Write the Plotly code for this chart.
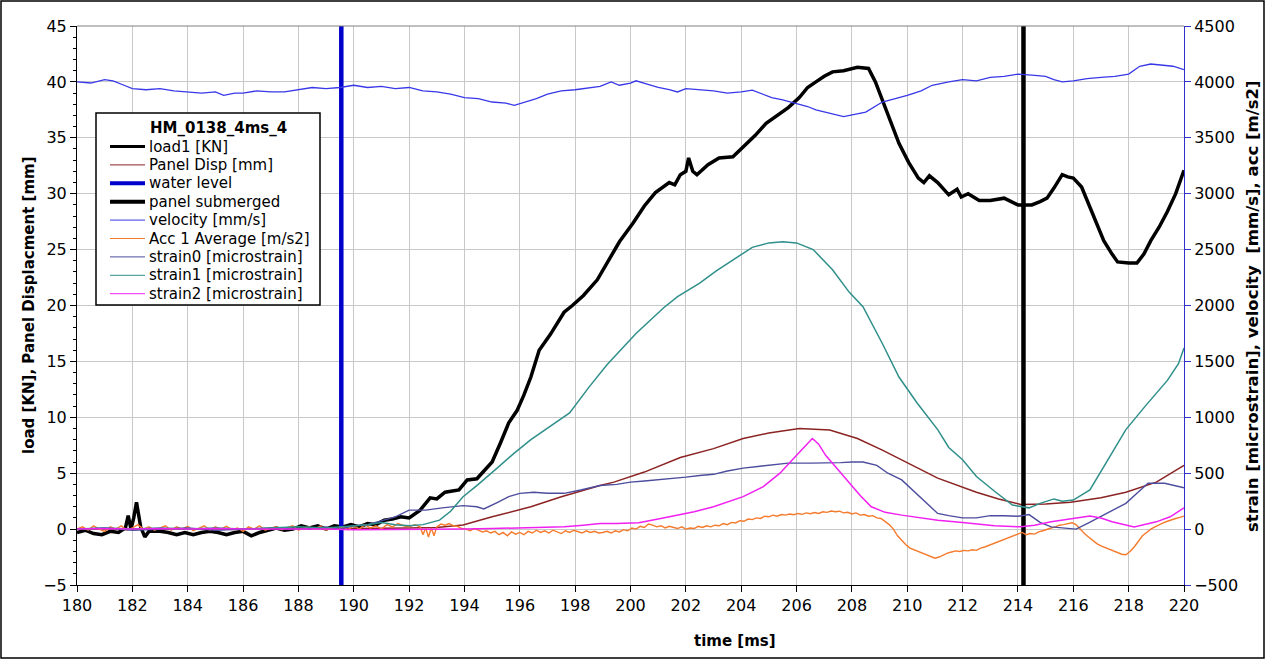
import plotly.graph_objects as go

# ---------------- data ----------------
load_t = [180.0, 180.3, 180.6, 180.9, 181.2, 181.5, 181.75, 181.85, 181.95, 182.05, 182.15, 182.3, 182.45, 182.6,
          183.0, 183.3, 183.6, 183.9, 184.2, 184.5, 184.8, 185.1, 185.4, 185.7, 186.0, 186.3, 186.6, 186.9, 187.2,
          187.5, 187.8, 188.1, 188.4, 188.7, 189.0, 189.3, 189.6, 189.9, 190.2, 190.5, 190.8, 191.1, 191.4, 191.7,
          192.0, 192.4, 192.76, 193.0, 193.3, 193.8, 194.1, 194.45, 194.8, 195.0, 195.3, 195.6, 195.9, 196.15, 196.4,
          196.7, 197.1, 197.6, 197.9, 198.3, 198.8, 199.2, 199.6, 200.1, 200.5, 200.9, 201.2, 201.4, 201.6, 201.8,
          202.0, 202.1, 202.25, 202.4, 202.8, 203.2, 203.7, 204.2, 204.5, 204.9, 205.3, 205.7, 206.1, 206.4, 206.7,
          207.0, 207.3, 207.7, 208.2, 208.6, 208.85, 209.1, 209.4, 209.7, 210.05, 210.4, 210.6, 210.8, 211.1, 211.5,
          211.8, 211.95, 212.2, 212.6, 213.0, 213.5, 214.0, 214.5, 214.8, 215.05, 215.3, 215.6, 215.8, 216.0, 216.3,
          216.5, 216.8, 217.1, 217.4, 217.6, 218.0, 218.3, 218.55, 218.8, 219.1, 219.4, 219.7, 220.0]
load_v = [-0.3, -0.1, -0.4, -0.5, -0.2, -0.3, 0.1, 1.2, 0.0, 1.0, 2.4, 0.2, -0.7, -0.2,
          -0.2, -0.3, -0.5, -0.3, -0.5, -0.3, -0.2, -0.3, -0.5, -0.3, -0.2, -0.6, -0.3, -0.1, 0.1,
          -0.1, 0.0, 0.3, 0.1, 0.3, 0.0, 0.3, 0.2, 0.4, 0.2, 0.5, 0.4, 0.8, 0.9, 1.1,
          1.0, 1.7, 2.8, 2.7, 3.3, 3.5, 4.4, 4.5, 5.5, 6.0, 7.7, 9.5, 10.6, 12.0, 13.6,
          16.0, 17.4, 19.4, 20.0, 20.9, 22.3, 24.0, 25.7, 27.4, 28.9, 30.1, 30.6, 31.0, 30.8, 31.7,
          32.0, 33.2, 32.0, 31.7, 32.6, 33.2, 33.3, 34.5, 35.2, 36.3, 37.0, 37.7, 38.6, 39.5, 40.0,
          40.5, 40.9, 41.0, 41.3, 41.2, 40.0, 38.4, 36.4, 34.5, 32.8, 31.4, 31.0, 31.6, 31.0, 29.9,
          30.4, 29.7, 30.0, 29.4, 29.4, 29.6, 29.0, 29.0, 29.3, 29.6, 30.5, 31.7, 31.5, 31.4, 30.6,
          29.4, 27.6, 25.8, 24.6, 23.9, 23.8, 23.8, 24.6, 25.8, 27.0, 28.4, 30.0, 32.1]

disp_t = [180, 182, 184, 186, 188, 190, 192, 193.0, 193.95, 195.0, 196.4, 197.5, 198.9, 199.4, 200.5, 201.8,
          203.0, 204.07, 205.0, 206.1, 207.2, 208.2, 209.1, 210.1, 211.1, 212.5, 213.3, 214.1, 215.0, 215.9,
          217.0, 217.9, 219.0, 220.0]
disp_v = [0.0, 0.0, 0.0, 0.0, 0.0, 0.05, 0.1, 0.15, 0.36, 1.1, 2.0, 2.9, 3.9, 4.2, 5.1, 6.4,
          7.2, 8.1, 8.6, 9.0, 8.86, 8.1, 7.07, 5.8, 4.56, 3.3, 2.7, 2.2, 2.25, 2.4,
          2.8, 3.3, 4.2, 5.7]

water_level_time = 189.55
panel_submerged_time = 214.2
left_range = [-5, 45]
right_range = [-500, 4500]

vel_t = [180, 180.5, 181, 181.3, 181.7, 182, 182.5, 183, 183.5, 184, 184.5, 185, 185.3, 185.7, 186, 186.5, 187,
         187.5, 188, 188.5, 189, 189.5, 190, 190.5, 191, 191.5, 192, 192.5, 193, 193.5, 194, 194.5, 195, 195.5,
         195.8, 196.2, 196.6, 197, 197.5, 198, 198.5, 198.9, 199.3, 199.6, 200, 200.2, 200.6, 201, 201.4, 201.7,
         202.0, 202.5, 203, 203.5, 204, 204.4, 204.8, 205.1, 205.5, 206, 206.4, 206.7, 207.2, 207.7, 208.1, 208.5,
         209.1, 209.6, 210, 210.5, 210.9, 211.5, 212, 212.5, 213, 213.5, 214, 214.5, 215, 215.3, 215.6, 216,
         216.5, 217, 217.5, 218, 218.4, 218.8, 219.2, 219.6, 220]
vel_v = [4000, 3990, 4020, 4010, 3970, 3940, 3930, 3940, 3920, 3910, 3900, 3910, 3880, 3900, 3900, 3920, 3910,
         3910, 3930, 3950, 3940, 3950, 3970, 3950, 3960, 3940, 3950, 3920, 3910, 3890, 3860, 3850, 3820, 3810,
         3790, 3820, 3850, 3890, 3920, 3930, 3950, 3960, 4000, 3970, 3990, 4010, 3980, 3950, 3930, 3910,
         3940, 3930, 3920, 3900, 3910, 3927, 3890, 3860, 3840, 3810, 3780, 3750, 3720, 3690, 3710, 3730,
         3820, 3850, 3880, 3920, 3970, 4000, 4020, 4010, 4040, 4050, 4070, 4060, 4050, 4020, 4000, 4010,
         4030, 4040, 4050, 4070, 4140, 4160, 4150, 4140, 4110]

acc_t = [180, 180.2, 180.4, 180.6, 180.8, 181, 181.2, 181.4, 181.6, 181.8, 182, 182.2, 182.4, 182.6, 182.8,
         183, 183.2, 183.4, 183.6, 183.8, 184, 184.2, 184.4, 184.6, 184.8, 185, 185.2, 185.4, 185.6, 185.8,
         186, 186.2, 186.4, 186.6, 186.8, 187, 187.2, 187.4, 187.6, 187.8, 188, 188.2, 188.4, 188.6, 188.8,
         189, 189.2, 189.4, 189.6, 189.8, 190, 190.2, 190.4, 190.6, 190.8, 191, 191.2, 191.4, 191.6, 191.8,
         192, 192.2, 192.4, 192.5, 192.6, 192.7, 192.8, 192.9,
         193.0, 193.15, 193.3, 193.45, 193.6, 193.75, 193.9, 194.05, 194.2, 194.35, 194.5, 194.65, 194.8, 194.95,
         195.1, 195.25, 195.4, 195.55, 195.7, 195.85, 196.0, 196.15, 196.3, 196.45, 196.6, 196.75, 196.9, 197.05,
         197.2, 197.35, 197.5, 197.65, 197.8, 197.95, 198.1, 198.25, 198.4, 198.55, 198.7, 198.85,
         199.0, 199.15, 199.3, 199.45, 199.6, 199.75, 199.9, 200.05, 200.2, 200.35, 200.5, 200.65, 200.8, 200.95,
         201.1, 201.25, 201.4, 201.55, 201.7, 201.85, 202.0, 202.15, 202.3, 202.45, 202.6, 202.75, 202.9, 203.05,
         203.2, 203.35, 203.5, 203.65, 203.8, 203.95, 204.1, 204.25, 204.4, 204.55, 204.7, 204.85, 205.0, 205.15,
         205.3, 205.45, 205.6, 205.75, 205.9, 206.05, 206.2, 206.35, 206.5, 206.65, 206.8, 206.95, 207.1, 207.25,
         207.4, 207.55, 207.7, 207.85, 208.0, 208.15, 208.3, 208.45, 208.6, 208.75, 208.9, 209.05, 209.2, 209.35,
         209.5, 209.65, 209.8, 209.95, 210.1, 210.25, 210.4, 210.55, 210.7, 210.85, 211.0, 211.15, 211.3, 211.45,
         211.6, 211.75, 211.9, 212.05, 212.2, 212.35, 212.5, 212.65, 212.8, 212.95, 213.1, 213.25, 213.4, 213.55,
         213.7, 213.85, 214.0, 214.15, 214.3, 214.45, 214.6, 214.75, 214.9, 215.05, 215.2, 215.35, 215.5, 215.65,
         215.8, 215.95, 216.1, 216.25, 216.4, 216.55, 216.7, 216.85, 217.0, 217.15, 217.3, 217.45, 217.6, 217.75,
         217.9, 218.05, 218.2, 218.35, 218.5, 218.65, 218.8, 218.95, 219.1, 219.25, 219.4, 219.55, 219.7, 219.85,
         220.0]
acc_v = [0, 20, -10, 30, 0, -20, 20, 0, 30, -10, 10, 40, 0, 20, -10,
         10, 30, -10, 20, 0, 25, -15, 10, 30, -10, 20, 0, 25, -5, 10,
         -20, 20, 0, 30, -10, 10, 20, -5, 15, 30, -10, 10, 20, 0, 30,
         -10, 15, 0, 20, -5, 30, 0, 40, 10, 30, 0, 40, 20, 50, 30,
         20, 40, 20, -50, 10, -70, 10, -60,
         20, 45, 35, 50, 30, 25, 5, 0, -15, 5, -10, -25, -15, -35,
         -20, -50, -30, -60, -25, -45, -30, -50, -20, -35, -10, -30, -15, -35,
         -10, -25, -40, -15, -30, -10, -25, -35, -15, -30, -20, -35,
         -30, -20, -35, -15, -25, -5, -15, 10, 0, 25, 15, 45, 35, 20,
         30, 10, 25, 15, 5, 20, 0, 10, 5, 25, 15, 30, 20, 35,
         30, 50, 40, 60, 55, 75, 70, 90, 85, 100, 95, 115, 110, 125,
         115, 130, 125, 135, 128, 140, 132, 145, 138, 148, 140, 155, 150, 162,
         155, 160, 145, 150, 135, 145, 125, 130, 115, 120, 100, 95, 70, 40,
         0, -60, -100, -140, -170, -185, -200, -215, -235, -245, -260, -250, -230, -215,
         -205, -195, -200, -190, -195, -185, -190, -170, -160, -145, -130, -120, -100, -90,
         -75, -60, -45, -30, -50, -40, -45, -25, -15, 0, 10, 20, 35, 40,
         50, 56, 40, 0, -40, -70, -100, -130, -150, -165, -180, -190, -205, -225,
         -230, -200, -160, -110, -60, -30, 0, 20, 40, 55, 70, 85, 95, 105,
         116]

s0_t = [180, 181, 182, 183, 184, 185, 186, 187, 188, 189, 189.5, 190, 190.5, 191.1, 191.5, 192, 192.6, 193.2,
        193.95, 194.45, 194.7, 195.2, 195.6, 196, 196.5, 197, 197.6, 198.2, 198.9, 199.5, 200, 200.5, 201,
        201.5, 202, 202.5, 203, 203.5, 204.07, 204.6, 205.2, 205.7, 206.5, 207, 207.6, 208, 208.4, 208.9,
        209.3, 209.8, 210.2, 210.6, 211.1, 211.5, 212, 212.5, 213, 213.5, 214, 214.4, 214.8, 215.2, 215.6,
        216.1, 216.5, 216.95, 217.5, 217.9, 218.3, 218.7, 219.3, 219.7, 220]
s0_v = [0, 10, -10, 0, 10, -10, 0, 10, 0, 20, 0, 30, 40, 80, 110, 170, 170, 190,
        210, 200, 180, 240, 290, 320, 330, 320, 320, 350, 390, 400, 420, 430, 440,
        450, 465, 480, 490, 520, 545, 560, 580, 590, 590, 590, 595, 600, 600, 570,
        500, 440, 350, 260, 140, 120, 100, 100, 120, 120, 115, 130, 60, 20, 10,
        0, 50, 110, 180, 230, 320, 410, 410, 390, 370]

s1_t = [180, 181, 182, 183, 184, 185, 186, 187, 188, 189, 190, 190.5, 191, 191.5, 192, 192.5, 193.1, 193.5,
        193.95, 194.5, 195.2, 195.8, 196.4, 197.1, 197.8, 198.5, 199.15, 200.2, 201.2, 201.7, 202.5, 203.1,
        203.7, 204.4, 205.0, 205.5, 206.0, 206.6, 207.3, 207.9, 208.4, 209.1, 209.7, 210.35, 211.1, 211.5,
        212.0, 212.5, 213.2, 213.8, 214.4, 214.8, 215.3, 215.6, 216.0, 216.6, 217.2, 217.9, 218.6, 219.4,
        219.8, 220]
s1_v = [0, 10, 0, 10, 0, 10, 0, 10, 20, 10, 30, 40, 60, 40, 30, 40, 80, 160,
        290, 400, 550, 680, 800, 920, 1040, 1270, 1470, 1750, 1980, 2080, 2200, 2310,
        2410, 2520, 2560, 2570, 2560, 2500, 2320, 2120, 1990, 1660, 1360, 1130, 890, 730,
        620, 470, 330, 215, 190, 230, 270, 250, 260, 350, 600, 890, 1100, 1330,
        1480, 1620]

s2_t = [180, 181, 182, 183, 184, 185, 186, 187, 188, 189, 190, 191, 192, 193, 194, 195, 196, 197, 197.6,
        198.3, 198.9, 199.5, 200.3, 201, 201.8, 202.3, 203, 203.5, 204.07, 204.8, 205.4, 205.96, 206.3,
        206.57, 206.8, 207.05, 207.4, 207.9, 208.3, 208.7, 209.2, 209.8, 210.5, 211.1, 212, 213.15, 214.1,
        214.6, 215.2, 215.9, 216.6, 217, 217.4, 218.2, 218.6, 219, 219.5, 220]
s2_v = [0, 5, 0, 5, 0, 5, 0, 0, 5, 0, -5, -5, 0, 0, 0, 5, 10, 20, 20,
        35, 50, 50, 56, 90, 130, 155, 200, 240, 290, 380, 500, 650, 740,
        810, 760, 660, 560, 420, 300, 200, 150, 125, 100, 80, 60, 30, 20,
        35, 65, 90, 116, 100, 65, 20, 40, 65, 110, 190]

legend_title = "HM_0138_4ms_4"
x_title = "time [ms]"
y_title = "load [KN], Panel Displacment [mm]"
y2_title = "strain [microstrain], velocity  [mm/s], acc [m/s2]"

# series: name, x, y, axis, colour, width, legend sample width
series = [
    ("load1 [KN]", load_t, load_v, "y", "#000000", 3.5, 3),
    ("Panel Disp [mm]", disp_t, disp_v, "y", "#8b2323", 1.5, 1),
    ("water level", [water_level_time, water_level_time], left_range, "y", "#0000cc", 4.5, 4),
    ("panel submerged", [panel_submerged_time, panel_submerged_time], left_range, "y", "#000000", 4.5, 4),
    ("velocity [mm/s]", vel_t, vel_v, "y2", "#3838e8", 1.3, 1),
    ("Acc 1 Average [m/s2]", acc_t, acc_v, "y2", "#f47a2c", 1.4, 1),
    ("strain0 [microstrain]", s0_t, s0_v, "y2", "#4d4d9e", 1.4, 1),
    ("strain1 [microstrain]", s1_t, s1_v, "y2", "#2f8f8a", 1.5, 1),
    ("strain2 [microstrain]", s2_t, s2_v, "y2", "#f020f0", 1.5, 1),
]

# ---------------- figure ----------------
FONT = "DejaVu Sans, Liberation Sans, Arial, sans-serif"
fig = go.Figure()
for name, xs, ys, ax, col, w, _ in series:
    fig.add_trace(go.Scatter(x=xs, y=ys, name=name, mode="lines", yaxis=ax,
                             line=dict(color=col, width=w), showlegend=False))

L, R, T, B = 77, 82, 26, 75
W, H = 1266, 660
pw, ph = W - L - R, H - T - B


def px(x):
    return (x - L) / pw


def py(y):
    return (ph + T - y) / ph


fig.update_layout(
    width=W, height=H,
    margin=dict(l=L, r=R, t=T, b=B),
    paper_bgcolor="white", plot_bgcolor="white",
    font=dict(family=FONT, size=16, color="#000000"),
    showlegend=False,
    xaxis=dict(range=[180, 220], dtick=2, tick0=180, showgrid=True, gridcolor="#c8c8c8", gridwidth=1,
               showline=True, linecolor="#000000", linewidth=1, ticks="outside", ticklen=6,
               tickcolor="#000000", zeroline=False, tickfont=dict(size=16)),
    yaxis=dict(range=left_range, dtick=5, tick0=-5, showgrid=True, gridcolor="#c8c8c8", gridwidth=1,
               showline=True, linecolor="#000000", linewidth=1, ticks="outside", ticklen=6,
               tickcolor="#000000", zeroline=False, tickfont=dict(size=16),
               minor=dict(dtick=1, ticks="outside", ticklen=3, tickcolor="#000000", showgrid=False)),
    yaxis2=dict(range=right_range, dtick=500, tick0=-500, overlaying="y", side="right", anchor="x",
                showgrid=False, showline=True, linecolor="#3333cc", linewidth=1, ticks="outside",
                ticklen=6, tickcolor="#3333cc", zeroline=False, tickfont=dict(size=16, color="#000000")),
)

# top border of plot area
fig.add_shape(type="line", xref="paper", yref="paper", x0=0, x1=1, y0=1, y1=1,
              line=dict(color="#808080", width=1))
# outer frame of the whole picture
fig.add_shape(type="rect", xref="paper", yref="paper",
              x0=px(1), x1=px(W - 2), y0=py(H - 2), y1=py(1),
              line=dict(color="#000000", width=1.5), layer="below")

# ---- legend box (drawn by hand for exact row spacing) ----
fig.add_shape(type="rect", xref="paper", yref="paper", x0=px(96), x1=px(320), y0=py(305), y1=py(113),
              line=dict(color="#000000", width=1.5), fillcolor="white", layer="above")
fig.add_annotation(text="<b>" + legend_title + "</b>", xref="paper", yref="paper", x=px(218), y=py(128),
                   showarrow=False, xanchor="center", yanchor="middle", font=dict(family=FONT, size=15))
row0, row_gap = 146.5, 18.4
for i, (name, _, _, _, col, _, lw) in enumerate(series):
    yy = row0 + i * row_gap
    fig.add_shape(type="line", xref="paper", yref="paper", x0=px(110), x1=px(145), y0=py(yy), y1=py(yy),
                  line=dict(color=col, width=lw), layer="above")
    fig.add_annotation(text=name, xref="paper", yref="paper", x=px(147), y=py(yy), showarrow=False,
                       xanchor="left", yanchor="middle", font=dict(family=FONT, size=15))

# axis titles
fig.add_annotation(text="<b>" + x_title + "</b>", xref="paper", yref="paper",
                   x=px(735), y=py(641), showarrow=False,
                   font=dict(family=FONT, size=15), xanchor="center", yanchor="middle")
fig.add_annotation(text="<b>" + y_title + "</b>", xref="paper", yref="paper",
                   x=px(29), y=py(305), showarrow=False, textangle=-90,
                   font=dict(family=FONT, size=15), xanchor="center", yanchor="middle")
fig.add_annotation(text="<b>" + y2_title + "</b>", xref="paper", yref="paper",
                   x=px(1252), y=py(306), showarrow=False, textangle=-90,
                   font=dict(family=FONT, size=16.5), xanchor="center", yanchor="middle")

fig.write_html("out.html")
